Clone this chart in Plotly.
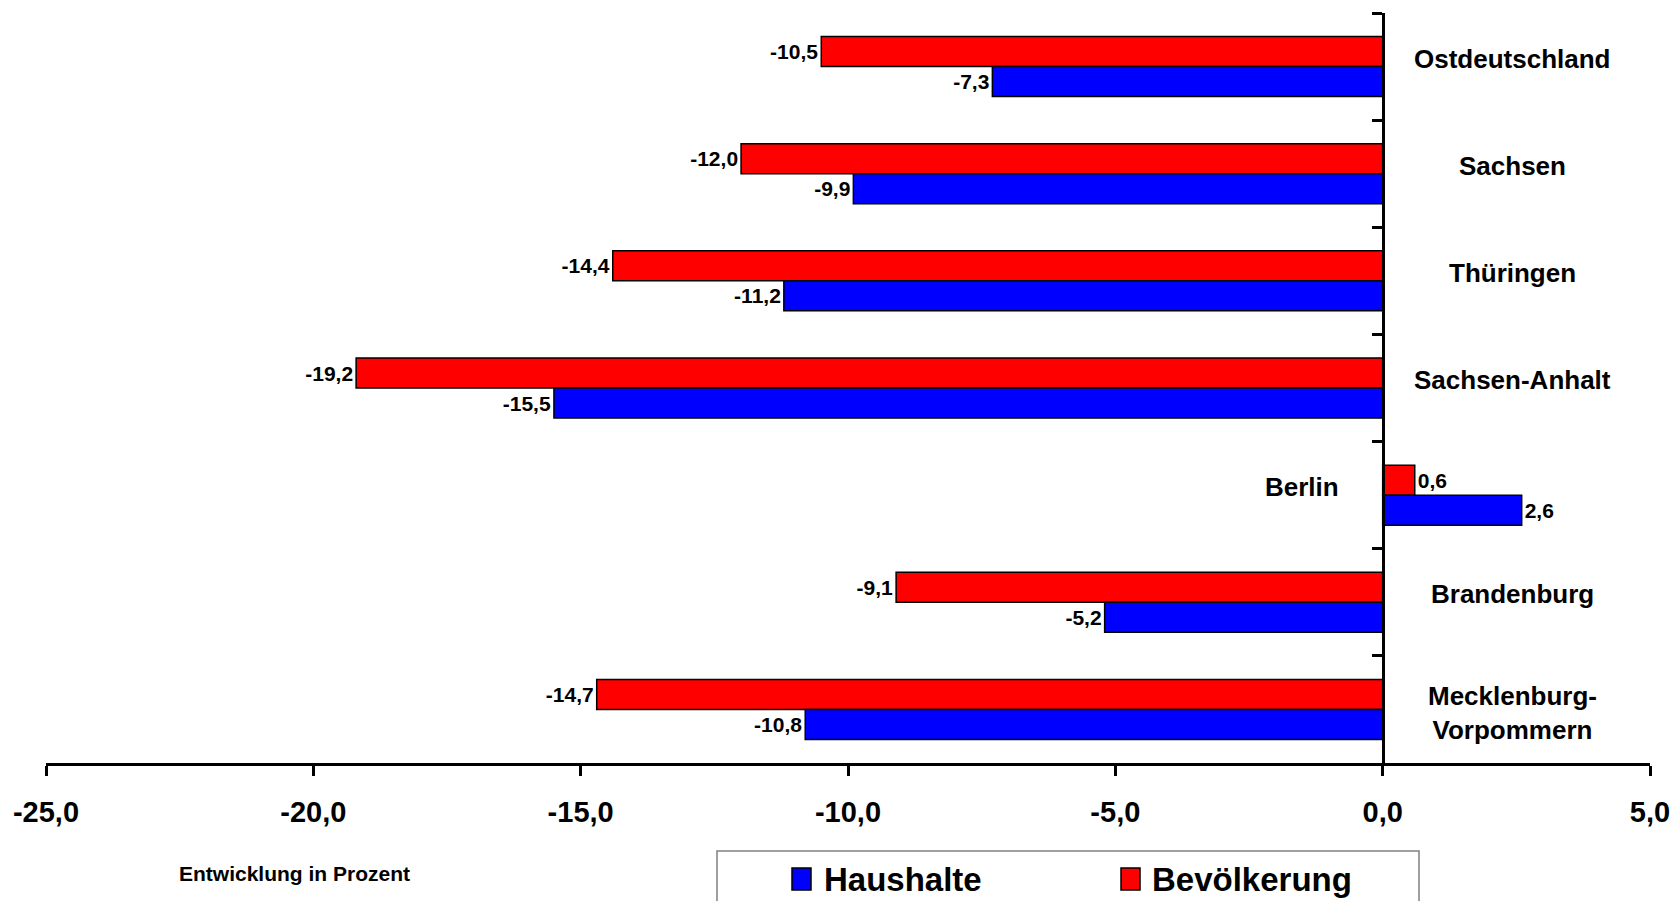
import plotly.graph_objects as go

# Regions (top to bottom) and change in percent
categories = ["Ostdeutschland", "Sachsen", "Thüringen", "Sachsen-Anhalt",
              "Berlin", "Brandenburg", "Mecklenburg-Vorpommern"]
category_labels = ["Ostdeutschland", "Sachsen", "Thüringen", "Sachsen-Anhalt",
                   "Berlin", "Brandenburg", "Mecklenburg-<br>Vorpommern"]
bevoelkerung = [-10.5, -12.0, -14.4, -19.2, 0.6, -9.1, -14.7]
haushalte = [-7.3, -9.9, -11.2, -15.5, 2.6, -5.2, -10.8]

x_tickvals = [-25, -20, -15, -10, -5, 0, 5]
x_ticktext = ["-25,0", "-20,0", "-15,0", "-10,0", "-5,0", "0,0", "5,0"]

RED = "#FF0000"
BLUE = "#0000FF"
FONT = "Liberation Sans, Arial, sans-serif"

# plot-area geometry in pixels (page is 1677 x 901)
W, H = 1677, 901
PLOT_L, PLOT_R, PLOT_T, PLOT_B = 46, 1650, 13, 763


def paper_x(px):
    return (px - PLOT_L) / (PLOT_R - PLOT_L)


def paper_y(py):
    return (PLOT_B - py) / (PLOT_B - PLOT_T)


def de(v):
    return f"{v:.1f}".replace(".", ",")


fig = go.Figure()
fig.add_trace(go.Bar(
    name="Bevölkerung", y=categories, x=bevoelkerung, orientation="h",
    marker=dict(color=RED, line=dict(color="black", width=1.5)),
    text=[de(v) for v in bevoelkerung], textposition="outside",
    textfont=dict(family=FONT, size=21, color="black", weight="bold"),
    constraintext="none", cliponaxis=False, showlegend=False,
))
fig.add_trace(go.Bar(
    name="Haushalte", y=categories, x=haushalte, orientation="h",
    marker=dict(color=BLUE, line=dict(color="black", width=1.5)),
    text=[de(v) for v in haushalte], textposition="outside",
    textfont=dict(family=FONT, size=21, color="black", weight="bold"),
    constraintext="none", cliponaxis=False, showlegend=False,
))

annotations = []
# region names: right of the axis for declining regions, left for growth
for cat, lab, h in zip(categories, category_labels, haushalte):
    annotations.append(dict(
        x=-1.5 if h > 0 else 2.42, y=cat, xref="x", yref="y",
        text=lab, showarrow=False, xanchor="center", yanchor="middle",
        yshift=8 if "<br>" not in lab else -4,
        font=dict(family=FONT, size=26, color="black", weight="bold"),
    ))

annotations.append(dict(
    x=paper_x(177), y=paper_y(874), xref="paper", yref="paper",
    text="Entwicklung in Prozent", showarrow=False,
    xanchor="left", yanchor="middle",
    font=dict(family=FONT, size=21, color="black", weight="bold"),
))

# legend box drawn below the axis
legend_items = [("Haushalte", BLUE, 792, 822), ("Bevölkerung", RED, 1121, 1150)]
shapes = [dict(type="rect", xref="paper", yref="paper",
               x0=paper_x(717), x1=paper_x(1419), y0=paper_y(851), y1=paper_y(910),
               line=dict(color="#808080", width=1.5), fillcolor="white", layer="above")]
for name, color, sq_x, txt_x in legend_items:
    shapes.append(dict(type="rect", xref="paper", yref="paper",
                       x0=paper_x(sq_x), x1=paper_x(sq_x + 19),
                       y0=paper_y(890), y1=paper_y(868),
                       line=dict(color="black", width=1.5), fillcolor=color, layer="above"))
    annotations.append(dict(
        x=paper_x(txt_x), y=paper_y(879), xref="paper", yref="paper",
        text=name, showarrow=False, xanchor="left", yanchor="middle",
        font=dict(family=FONT, size=33, color="black", weight="bold"),
    ))

fig.update_layout(
    width=W, height=H,
    margin=dict(l=PLOT_L, r=W - PLOT_R, t=PLOT_T, b=H - PLOT_B, autoexpand=False),
    barmode="group", bargap=0.44, bargroupgap=0,
    plot_bgcolor="white", paper_bgcolor="white",
    showlegend=False,
    xaxis=dict(
        range=[-25, 5], tickvals=x_tickvals, ticktext=x_ticktext,
        showgrid=False, zeroline=False, automargin=False,
        showline=True, linecolor="black", linewidth=3,
        ticks="outside", ticklen=10, tickwidth=3, tickcolor="black",
        ticklabelstandoff=11,
        tickfont=dict(family=FONT, size=29, color="black", weight="bold"),
    ),
    yaxis=dict(
        categoryorder="array", categoryarray=categories,
        range=[6.5, -0.5], showgrid=False, zeroline=False, automargin=False,
        anchor="free", position=25 / 30,
        showline=True, linecolor="black", linewidth=3,
        ticks="outside", ticklen=10, tickwidth=3, tickcolor="black",
        tickson="boundaries", showticklabels=False,
    ),
    shapes=shapes,
    annotations=annotations,
)

fig.write_html("out.html")
